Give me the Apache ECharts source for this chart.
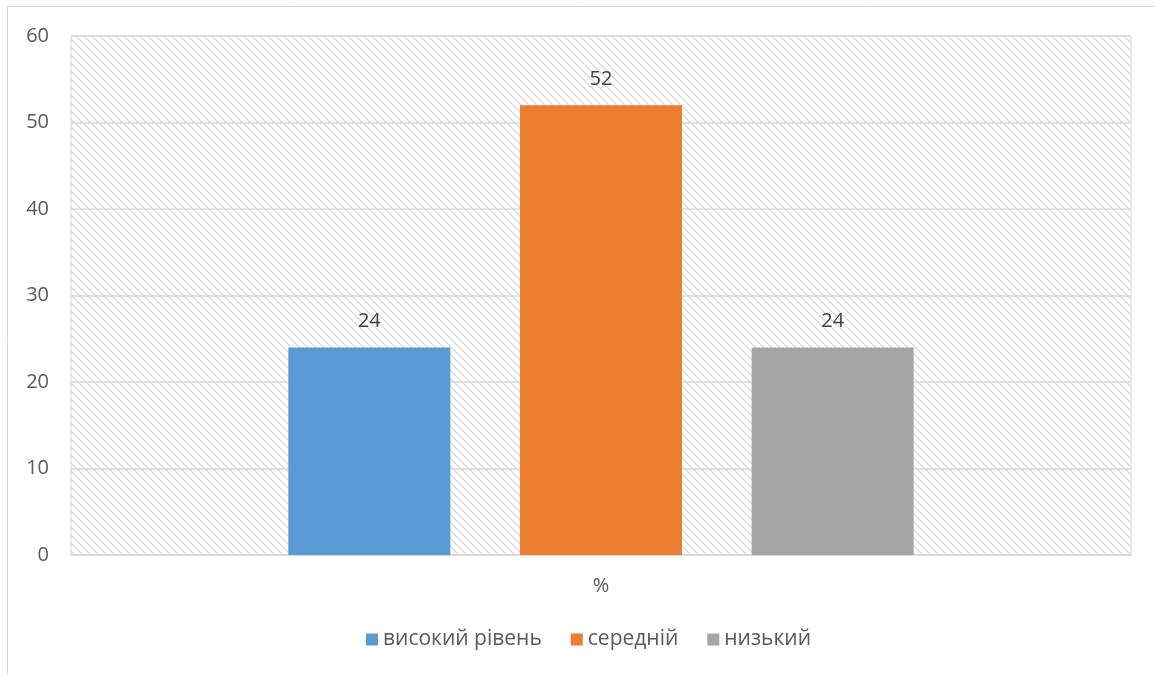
<!DOCTYPE html>
<html>
<head>
<meta charset="utf-8">
<script src="https://cdn.jsdelivr.net/npm/echarts@6/dist/echarts.min.js"></script>
<style>
  html, body { margin: 0; padding: 0; background: #ffffff; }
  #chart { width: 1155px; height: 675px; }
</style>
</head>
<body>
<div id="chart"></div>
<script>
// Data
const categories = ['%'];
const seriesNames = ['високий рівень', 'середній', 'низький'];
const seriesValues = [[24], [52], [24]];
const seriesColors = ['#5b9bd5', '#ed7d31', '#a5a5a5'];
const yTicks = { min: 0, max: 60, interval: 10 };

// Diagonal hatch tile for the plot background
function makeHatch() {
  const s = 8;
  const c = document.createElement('canvas');
  c.width = s; c.height = s;
  const g = c.getContext('2d');
  g.fillStyle = '#ffffff';
  g.fillRect(0, 0, s, s);
  g.strokeStyle = '#d9d9d9';
  g.lineWidth = 1.3;
  g.beginPath();
  g.moveTo(-1, -1); g.lineTo(s + 1, s + 1);
  g.moveTo(-1, s - 1); g.lineTo(1, s + 1);
  g.moveTo(s - 1, -1); g.lineTo(s + 1, 1);
  g.stroke();
  return c;
}

const chart = echarts.init(document.getElementById('chart'), null, { renderer: 'canvas' });
const font = '"Open Sans", "Noto Sans", sans-serif';

chart.setOption({
  animation: false,
  textStyle: { fontFamily: font },
  graphic: [{
    type: 'rect',
    shape: { x: 7.5, y: 6.5, width: 1300, height: 800 },
    style: { fill: 'none', stroke: '#d9d9d9', lineWidth: 1 },
    z: -10
  }],
  grid: {
    left: 71, top: 36, right: 24, bottom: 120,
    show: true,
    backgroundColor: { image: makeHatch(), repeat: 'repeat' },
    borderColor: '#d9d9d9',
    borderWidth: 1
  },
  legend: {
    bottom: 20,
    left: 361,
    itemWidth: 12,
    itemHeight: 12,
    itemGap: 29,
    itemTextGap: 6,
    icon: 'rect',
    textStyle: { color: '#595959', fontSize: 21, fontFamily: font }
  },
  xAxis: {
    type: 'category',
    data: categories,
    axisLine: { lineStyle: { color: '#d9d9d9' } },
    axisTick: { show: false },
    axisLabel: { color: '#595959', fontSize: 20, margin: 21 }
  },
  yAxis: {
    type: 'value',
    min: yTicks.min, max: yTicks.max, interval: yTicks.interval,
    axisLine: { show: false },
    axisTick: { show: false },
    axisLabel: { color: '#595959', fontSize: 20, margin: 22 },
    splitLine: { lineStyle: { color: '#d9d9d9', width: 1.5 } }
  },
  series: seriesNames.map((name, i) => ({
    name: name,
    type: 'bar',
    data: seriesValues[i],
    barWidth: 162,
    barGap: '43%',
    itemStyle: { color: seriesColors[i] },
    label: {
      show: true,
      position: 'top',
      distance: 16,
      color: '#404040',
      fontSize: 20,
      fontFamily: font
    }
  }))
});
</script>
</body>
</html>
